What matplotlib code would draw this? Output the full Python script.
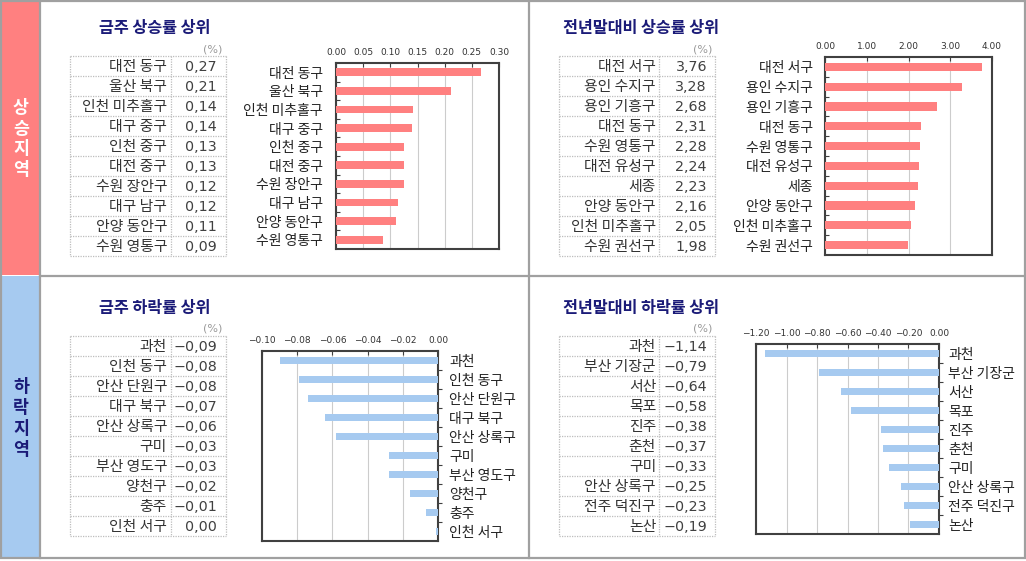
import matplotlib
matplotlib.use('Agg')
import matplotlib.pyplot as plt
from matplotlib.patches import Rectangle

plt.rcParams['font.family'] = ['Noto Sans CJK KR', 'DejaVu Sans']
plt.rcParams['axes.unicode_minus'] = True

# ---------------- data ----------------
side_up = "상승지역"
side_down = "하락지역"
titles = ["금주 상승률 상위", "전년말대비 상승률 상위", "금주 하락률 상위", "전년말대비 하락률 상위"]

tl_names = ["대전 동구", "울산 북구", "인천 미추홀구", "대구 중구", "인천 중구",
            "대전 중구", "수원 장안구", "대구 남구", "안양 동안구", "수원 영통구"]
tl_table = [0.27, 0.21, 0.14, 0.14, 0.13, 0.13, 0.12, 0.12, 0.11, 0.09]
tl_bars = [0.267, 0.211, 0.141, 0.139, 0.126, 0.126, 0.126, 0.115, 0.111, 0.087]
tl_ticks = [0.00, 0.05, 0.10, 0.15, 0.20, 0.25, 0.30]
tl_ticklabels = ["0.00", "0.05", "0.10", "0.15", "0.20", "0.25", "0.30"]

tr_names = ["대전 서구", "용인 수지구", "용인 기흥구", "대전 동구", "수원 영통구",
            "대전 유성구", "세종", "안양 동안구", "인천 미추홀구", "수원 권선구"]
tr_table = [3.76, 3.28, 2.68, 2.31, 2.28, 2.24, 2.23, 2.16, 2.05, 1.98]
tr_bars = [3.76, 3.28, 2.68, 2.31, 2.28, 2.24, 2.23, 2.16, 2.05, 1.98]
tr_ticks = [0.0, 1.0, 2.0, 3.0, 4.0]
tr_ticklabels = ["0.00", "1.00", "2.00", "3.00", "4.00"]

bl_names = ["과천", "인천 동구", "안산 단원구", "대구 북구", "안산 상록구",
            "구미", "부산 영도구", "양천구", "충주", "인천 서구"]
bl_table = [-0.09, -0.08, -0.08, -0.07, -0.06, -0.03, -0.03, -0.02, -0.01, 0.00]
bl_bars = [-0.090, -0.079, -0.074, -0.064, -0.058, -0.028, -0.028, -0.016, -0.007, -0.001]
bl_ticks = [-0.10, -0.08, -0.06, -0.04, -0.02, 0.00]
bl_ticklabels = ["\u22120.10", "\u22120.08", "\u22120.06", "\u22120.04", "\u22120.02", "0.00"]

br_names = ["과천", "부산 기장군", "서산", "목포", "진주",
            "춘천", "구미", "안산 상록구", "전주 덕진구", "논산"]
br_table = [-1.14, -0.79, -0.64, -0.58, -0.38, -0.37, -0.33, -0.25, -0.23, -0.19]
br_bars = [-1.14, -0.79, -0.64, -0.58, -0.38, -0.37, -0.33, -0.25, -0.23, -0.19]
br_ticks = [-1.2, -1.0, -0.8, -0.6, -0.4, -0.2, 0.0]
br_ticklabels = ["\u22121.20", "\u22121.00", "\u22120.80", "\u22120.60", "\u22120.40", "\u22120.20", "0.00"]

# ---------------- style ----------------
PINK = '#FF8080'
BLUE = '#A6CAF0'
NAVY = '#1b1b78'
FRAME = '#a0a0a0'
W, H = 1026, 561

fig = plt.figure(figsize=(W / 100, H / 100), dpi=100)
bg = fig.add_axes([0, 0, 1, 1])
bg.set_xlim(0, W)
bg.set_ylim(H, 0)
bg.axis('off')

# side strips
bg.add_patch(Rectangle((1, 1), 39, 274, facecolor=PINK, edgecolor='none'))
bg.add_patch(Rectangle((1, 276), 39, 282, facecolor=BLUE, edgecolor='none'))
# frame lines
bg.add_patch(Rectangle((1, 1), 1024, 557, fill=False, edgecolor=FRAME, lw=1.6))
bg.plot([40, 40], [0, 558], color=FRAME, lw=1.6)
bg.plot([40, 1025], [275.5, 275.5], color=FRAME, lw=1.6)
bg.plot([528.5, 528.5], [0, 558], color=FRAME, lw=1.6)

for i, ch in enumerate(side_up):
    bg.text(21, 108 + i * 20.5, ch, ha='center', va='center', fontsize=12.5,
            fontweight='bold', color='white')
for i, ch in enumerate(side_down):
    bg.text(21, 387 + i * 21, ch, ha='center', va='center', fontsize=12.5,
            fontweight='bold', color=NAVY)


def fmt(v):
    s = f"{abs(v):.2f}".replace('.', ',')
    return ('\u2212' + s) if v < 0 else s


def draw_table(x0, xdiv, x1, y0, names, vals, name_rx, val_rx, pct_x, pct_y,
               title, title_x, title_y):
    rh = 20
    n = len(names)
    for i in range(n + 1):
        bg.plot([x0, x1], [y0 + i * rh] * 2, color='#bdbdbd', lw=0.9,
                ls=(0, (1, 1)))
    for x in (x0, xdiv, x1):
        bg.plot([x, x], [y0, y0 + n * rh], color='#bdbdbd', lw=0.9,
                ls=(0, (1, 1)))
    for i, (nm, v) in enumerate(zip(names, vals)):
        yc = y0 + i * rh + rh / 2 + 1
        bg.text(name_rx, yc, nm, ha='right', va='center', fontsize=10.7,
                color='#333333')
        bg.text(val_rx, yc, fmt(v), ha='right', va='center', fontsize=10.3,
                family=['DejaVu Sans'], color='#404040')
    bg.text(pct_x, pct_y, '(%)', ha='center', va='center', fontsize=8,
            color='#9a9a9a', family=['DejaVu Sans'])
    bg.text(title_x, title_y, title, ha='left', va='center', fontsize=11.7,
            fontweight='bold', color=NAVY)


def draw_chart(box, names, bars, ticks, ticklabels, color, right, pad):
    x0, y0, x1, y1 = box
    ax = fig.add_axes([x0 / W, 1 - y1 / H, (x1 - x0) / W, (y1 - y0) / H])
    pos = list(range(len(names)))
    ax.barh(pos, bars, height=0.42, color=color, zorder=3)
    ax.set_ylim(len(names) - 0.5, -0.5)
    ax.set_xlim(ticks[0], ticks[-1])
    ax.xaxis.tick_top()
    ax.set_xticks(ticks)
    ax.set_xticklabels(ticklabels, fontsize=6.5, family=['DejaVu Sans'],
                       color='#333333')
    ax.tick_params(axis='x', direction='in', length=3, width=0.8, pad=4,
                   color='#404040')
    ax.grid(axis='x', color='#cccccc', lw=0.8, zorder=0)
    ax.set_yticks(pos)
    ax.set_yticklabels(names, fontsize=10, color='#222222')
    ax.set_yticks([p + 0.5 for p in pos[:-1]], minor=True)
    if right:
        ax.yaxis.tick_right()
        ax.tick_params(axis='y', which='minor', direction='out', length=3,
                       width=0.8, color='#404040')
    else:
        ax.tick_params(axis='y', which='minor', direction='in', length=3,
                       width=0.8, color='#404040')
    ax.tick_params(axis='y', which='major', length=0, pad=pad)
    for s in ax.spines.values():
        s.set_color('#404040')
        s.set_linewidth(1.5)
    return ax


# top-left
draw_table(70, 171, 226, 56, tl_names, tl_table, 167, 217, 213, 49,
           titles[0], 99, 28)
draw_chart((336, 63, 499, 249), tl_names, tl_bars, tl_ticks, tl_ticklabels,
           PINK, False, 9.4)
# top-right
draw_table(559, 659, 715, 56, tr_names, tr_table, 656, 707, 703, 49,
           titles[1], 563, 28)
draw_chart((825, 57, 992, 255), tr_names, tr_bars, tr_ticks, tr_ticklabels,
           PINK, False, 8.6)
# bottom-left
draw_table(70, 171, 226, 336, bl_names, bl_table, 167, 217, 213, 328,
           titles[2], 99, 308)
draw_chart((262, 351, 438, 541), bl_names, bl_bars, bl_ticks, bl_ticklabels,
           BLUE, True, 8)
# bottom-right
draw_table(559, 659, 715, 336, br_names, br_table, 656, 707, 703, 328,
           titles[3], 563, 308)
draw_chart((756, 344, 939, 534), br_names, br_bars, br_ticks, br_ticklabels,
           BLUE, True, 6.5)

fig.savefig('out.png', dpi=100)
